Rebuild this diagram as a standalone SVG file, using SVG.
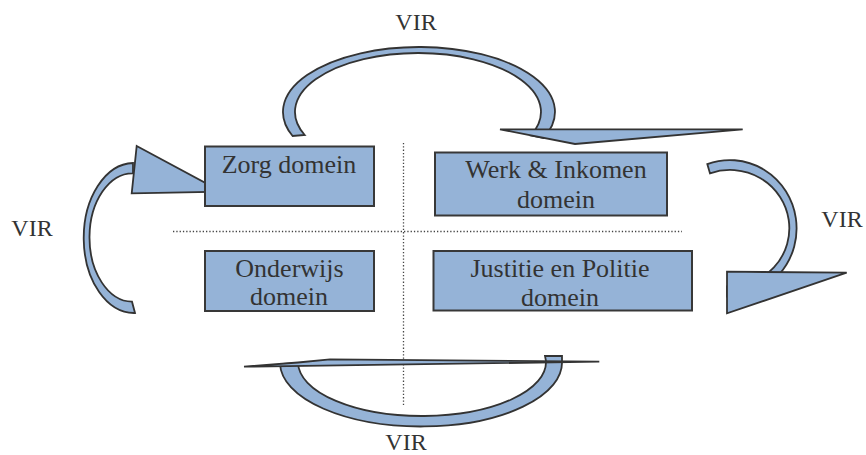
<svg xmlns="http://www.w3.org/2000/svg" width="866" height="455" viewBox="0 0 866 455">
<style>
.box{fill:#95B3D7;stroke:#383838;stroke-width:2}
.arr{fill:#95B3D7;stroke:#333;stroke-width:1.8;stroke-linejoin:miter;fill-rule:evenodd}
.dot{fill:none;stroke:#444;stroke-width:1.3;stroke-dasharray:1.3 2}
.t{font-size:26px;fill:#333;text-anchor:middle}
.v{font-size:24px;fill:#333;text-anchor:middle}
</style>
<rect width="866" height="455" fill="#fff"/>
<g id="guides">
<line class="dot" x1="403.5" y1="143" x2="403.5" y2="405"/>
<line class="dot" x1="173" y1="231.5" x2="682" y2="231.5"/>
</g>
<g id="connectors">
<g id="arrow-top">
<path class="arr" d="M292.6,136 A136,65 0 1 1 543.6,138 L530.8,135.5 A123,59 0 1 0 304.7,135 Z"/>
<polygon class="arr" points="500,129.3 742.7,129.3 575,144"/>
</g>
<g id="arrow-right">
<path class="arr" d="M707.3,164.1 A66.7,68.3 0 1 1 727,296.6 L727,286.5 A59.3,58.3 0 1 0 710,173.4 Z"/>
<polygon class="arr" points="727,271.7 846.7,272.7 727,313.3"/>
</g>
<g id="arrow-left">
<path class="arr" d="M133,163 A50.3,75 0 0 0 135,313 L132,301.7 A43,64.2 0 0 1 133,173.3 Z"/>
<polygon class="arr" points="136.7,146 221.7,191.7 131.7,193.3"/>
</g>
<g id="arrow-bottom">
<path class="arr" d="M280,364 A141,64 0 0 0 562,361 L562,356 L545,356 L546,361 A124,54 0 0 1 298,363 Z"/>
<polygon class="arr" points="244,366.7 298,362.5 330,359.3 599.3,361.7"/>
</g>
</g>
<g font-family="'Liberation Serif', 'Times New Roman', serif">
<g id="zorg">
<rect class="box" x="205" y="146.5" width="169" height="59.5"/>
<text class="t" x="289" y="173">Zorg domein</text>
</g>
<g id="werk">
<rect class="box" x="435" y="152.5" width="232" height="63"/>
<text class="t" x="556" y="178">Werk &amp; Inkomen</text>
<text class="t" x="556" y="208">domein</text>
</g>
<g id="onderwijs">
<rect class="box" x="205" y="251" width="169" height="60"/>
<text class="t" x="289.5" y="277">Onderwijs</text>
<text class="t" x="289" y="305">domein</text>
</g>
<g id="justitie">
<rect class="box" x="433.5" y="251" width="258.5" height="59.5"/>
<text class="t" x="560" y="277">Justitie en Politie</text>
<text class="t" x="560" y="306">domein</text>
</g>
<g id="labels">
<text class="v" x="416" y="30">VIR</text>
<text class="v" x="32" y="236">VIR</text>
<text class="v" x="842" y="227">VIR</text>
<text class="v" x="406" y="450">VIR</text>
</g>
</g>
</svg>
